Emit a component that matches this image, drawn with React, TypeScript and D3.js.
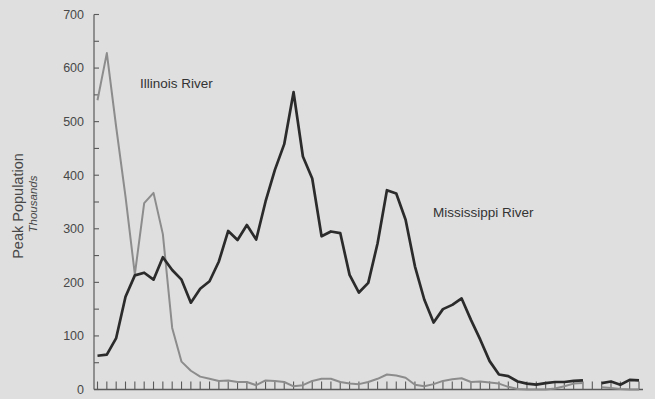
import React from 'react';
import * as d3 from 'd3';

// one entry per tick along the bottom axis; null = no reading (gap)
const mississippi: (number | null)[] = [
  63, 65, 96, 173, 213, 218, 205, 247, 223, 205,
  162, 188, 202, 239, 296, 279, 307, 280, 351, 410,
  458, 555, 435, 394, 286, 295, 292, 214, 181, 199,
  273, 372, 366, 317, 230, 168, 125, 150, 158, 170,
  130, 93, 53, 28, 25, 15, 11, 9, 12, 14,
  14, 16, 17, null, 12, 15, 9, 18, 17,
];

const illinois: (number | null)[] = [
  540, 628, 490, 360, 215, 348, 367, 290, 115, 52,
  35, 24, 20, 16, 17, 14, 14, 8, 17, 16,
  14, 6, 8, 16, 20, 20, 14, 11, 10, 14,
  20, 28, 26, 22, 9, 6, 10, 16, 19, 21,
  14, 15, 13, 11, 5, 1, 0, 0, 0, 2,
  6, 11, 12, null, 4, 3, 1, 0, 0,
];

const yTicks = [0, 100, 200, 300, 400, 500, 600, 700];
const yMinorTicks = [50, 150, 250, 350, 450, 550, 650];

const W = 655;
const H = 399;

const App: React.FC = () => {
  const n = mississippi.length;
  const x = d3.scaleLinear().domain([0, n - 1]).range([97.5, 639]);
  const y = d3.scaleLinear().domain([0, 700]).range([389.5, 14.5]);

  const line = d3.line<number | null>()
    .defined(d => d !== null)
    .x((_, i) => x(i))
    .y(d => y(d as number));

  const font = '"Liberation Sans", Arial, sans-serif';
  const axisColor = '#5a5a5a';
  const x0 = 94;
  const yBase = y(0);

  return (
    <svg
      width={W}
      height={H}
      style={{ position: 'absolute', left: 0, top: 0, background: '#dfdfdf' }}
    >
      {/* y axis */}
      <line x1={x0} x2={x0} y1={y(700)} y2={yBase} stroke={axisColor} strokeWidth={1.2} />
      {yTicks.map(t => (
        <g key={t}>
          <line x1={x0} x2={x0 + 5} y1={y(t)} y2={y(t)} stroke={axisColor} strokeWidth={1.1} />
          <text
            x={84}
            y={y(t)}
            dy="0.35em"
            textAnchor="end"
            fontFamily={font}
            fontSize={12.5}
            fill="#484848"
          >
            {t}
          </text>
        </g>
      ))}
      {yMinorTicks.map(t => (
        <line key={t} x1={x0} x2={x0 + 5} y1={y(t)} y2={y(t)} stroke={axisColor} strokeWidth={1.1} />
      ))}

      {/* x axis */}
      <line x1={x0} x2={643} y1={yBase} y2={yBase} stroke={axisColor} strokeWidth={1.4} />
      {d3.range(n).map(i => (
        <line
          key={i}
          x1={x(i)}
          x2={x(i)}
          y1={yBase}
          y2={yBase - 8}
          stroke={axisColor}
          strokeWidth={1.1}
        />
      ))}

      {/* axis title */}
      <text
        transform="translate(23,206) rotate(-90)"
        textAnchor="middle"
        fontFamily={font}
        fontSize={14.5}
        fill="#484848"
      >
        Peak Population
      </text>
      <text
        transform="translate(37,204) rotate(-90)"
        textAnchor="middle"
        fontFamily={font}
        fontSize={11.5}
        fontStyle="italic"
        fill="#484848"
      >
        Thousands
      </text>

      {/* series */}
      <path d={line(illinois) ?? ''} fill="none" stroke="#8c8c8c" strokeWidth={2} strokeLinejoin="round" />
      <path d={line(mississippi) ?? ''} fill="none" stroke="#2b2b2b" strokeWidth={2.7} strokeLinejoin="round" />

      {/* series labels */}
      <text x={140} y={88} fontFamily={font} fontSize={13.5} fill="#333">
        Illinois River
      </text>
      <text x={433} y={217} fontFamily={font} fontSize={13.5} fill="#333">
        Mississippi River
      </text>
    </svg>
  );
};

export default App;
